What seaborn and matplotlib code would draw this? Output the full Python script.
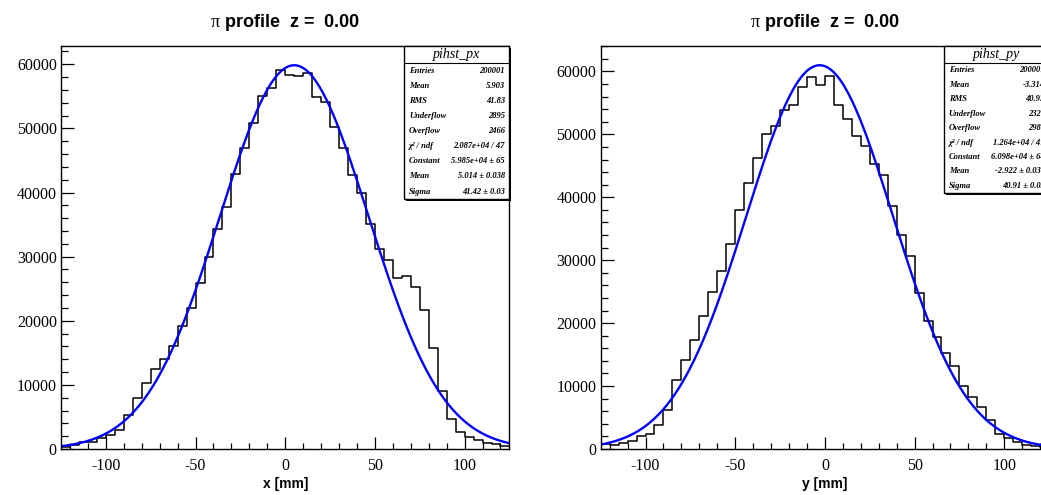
import numpy as np
import pandas as pd
import seaborn as sns
import matplotlib.pyplot as plt
from matplotlib.patches import Rectangle
from matplotlib.ticker import MultipleLocator

# 50 bins of 5 mm from -125 to 125
edges = list(range(-125, 126, 5))
centers = [e + 2.5 for e in edges[:-1]]

px_counts = [290, 700, 1070, 1100, 1690, 2110, 2990, 5330, 7980, 10320,
             12450, 13960, 16040, 19160, 21970, 25870, 29880, 34350, 37730, 42830,
             46990, 50850, 55040, 56250, 59080, 58350, 58160, 58690, 54890, 54050,
             50150, 46980, 42770, 39910, 35130, 31230, 29410, 26650, 26910, 25300,
             21650, 15750, 8970, 4710, 2630, 1850, 1480, 960, 810, 440]

py_counts = [795, 580, 950, 1270, 2010, 2440, 3870, 6200, 10970, 14200,
             17400, 21200, 25010, 28250, 32590, 38000, 42290, 46210, 50080, 51400,
             53900, 54690, 57500, 59090, 57850, 59190, 54620, 52500, 49810, 48200,
             45310, 43610, 38690, 34020, 30740, 24800, 20400, 17750, 15260, 13250,
             10070, 8320, 6620, 4610, 2380, 1700, 1060, 650, 420, 350]

# fit parameters shown in the stats boxes (Constant, Mean, Sigma)
px_fit = [5.985e4, 5.014, 41.42]
py_fit = [6.098e4, -2.922, 40.91]

px_stats = [("Entries", "200001"), ("Mean", "5.903"), ("RMS", "41.83"),
            ("Underflow", "2895"), ("Overflow", "2466"),
            ("χ² / ndf", "2.087e+04 / 47"), ("Constant", "5.985e+04 ± 65"),
            ("Mean", "5.014 ± 0.038"), ("Sigma", "41.42 ± 0.03")]
py_stats = [("Entries", "200001"), ("Mean", "-3.314"), ("RMS", "40.93"),
            ("Underflow", "2326"), ("Overflow", "2989"),
            ("χ² / ndf", "1.264e+04 / 47"), ("Constant", "6.098e+04 ± 64"),
            ("Mean", "-2.922 ± 0.037"), ("Sigma", "40.91 ± 0.03")]

sns.set_style('white')
plt.rcParams['font.family'] = ['Liberation Sans', 'DejaVu Sans']
plt.rcParams['mathtext.fontset'] = 'custom'
plt.rcParams['mathtext.rm'] = 'Liberation Serif'
plt.rcParams['axes.unicode_minus'] = False
for key in ['text.color', 'axes.labelcolor', 'xtick.color', 'ytick.color',
            'axes.edgecolor']:
    plt.rcParams[key] = 'black'

fig = plt.figure(figsize=(10.41, 4.95), dpi=100)
fig.patch.set_facecolor('white')
# right pad runs past the image edge, as in the original canvas
ax1 = fig.add_axes([0.0586, 0.0929, 0.4308, 0.8141])
ax2 = fig.add_axes([0.5770, 0.0929, 0.4308, 0.8141])


def draw_panel(ax, counts, fit, stats, name, xlabel, box_bottom):
    df = pd.DataFrame({'pos': centers, 'n': counts})
    sns.histplot(data=df, x='pos', weights='n', bins=edges, element='step',
                 fill=False, color='black', linewidth=1.1, ax=ax)
    xs = np.linspace(-125, 125, 400)
    ys = fit[0] * np.exp(-0.5 * ((xs - fit[1]) / fit[2]) ** 2)
    sns.lineplot(x=xs, y=ys, color='#0000ff', linewidth=1.7, ax=ax)

    ax.set_xlim(-125, 125)
    ax.set_ylim(0, 1.05 * fit[0])
    ax.xaxis.set_major_locator(MultipleLocator(50))
    ax.xaxis.set_minor_locator(MultipleLocator(10))
    ax.yaxis.set_major_locator(MultipleLocator(10000))
    ax.yaxis.set_minor_locator(MultipleLocator(2000))
    ax.tick_params(which='both', direction='in', color='black', width=0.9,
                   top=False, right=False, bottom=True, left=True)
    ax.tick_params(axis='x', which='major', length=8.5, pad=6.5)
    ax.tick_params(axis='x', which='minor', length=4.2)
    ax.tick_params(axis='y', which='major', length=9.5, pad=3)
    ax.tick_params(axis='y', which='minor', length=5)
    for lab in ax.get_xticklabels() + ax.get_yticklabels():
        lab.set_family('Liberation Serif')
        lab.set_fontsize(11.5)
        lab.set_color('black')
    for sp in ax.spines.values():
        sp.set_color('black')
        sp.set_linewidth(1.0)

    ax.set_ylabel('')
    ax.set_xlabel(xlabel, fontsize=10, fontweight='bold', labelpad=2)
    ax.set_title(r'$\mathrm{\pi}$ profile  z =  0.00', fontsize=13,
                 fontweight='bold', pad=14)

    # ROOT-like stats box with shadow
    x0, top = 0.765, 1.0
    h = top - box_bottom
    tr = ax.transAxes
    ax.add_patch(Rectangle((x0 + 0.004, box_bottom - 0.005), 1 - x0, h,
                           transform=tr, facecolor='black', edgecolor='none',
                           clip_on=False, zorder=5))
    ax.add_patch(Rectangle((x0, box_bottom), 1 - x0, h, transform=tr,
                           facecolor='white', edgecolor='black', linewidth=1.0,
                           clip_on=False, zorder=6))
    title_h = 0.042
    ax.plot([x0, 1], [top - title_h, top - title_h], transform=tr,
            color='black', linewidth=0.8, clip_on=False, zorder=7)
    ax.text((x0 + 1) / 2, top - title_h / 2, name, transform=tr,
            ha='center', va='center', fontsize=10, style='italic',
            family='Liberation Serif', zorder=8)
    row_h = (h - title_h) / len(stats)
    for i, (k, v) in enumerate(stats):
        yy = top - title_h - row_h * (i + 0.5)
        ax.text(x0 + 0.011, yy, k, transform=tr, ha='left', va='center',
                fontsize=6.1, style='italic', fontweight='bold',
                family='Liberation Serif', zorder=8)
        ax.text(0.99, yy, v, transform=tr, ha='right', va='center',
                fontsize=6.1, style='italic', fontweight='bold',
                family='Liberation Serif', zorder=8)


draw_panel(ax1, px_counts, px_fit, px_stats, 'pihst_px', 'x [mm]', 0.620)
draw_panel(ax2, py_counts, py_fit, py_stats, 'pihst_py', 'y [mm]', 0.635)

fig.savefig('out.png', dpi=100)
